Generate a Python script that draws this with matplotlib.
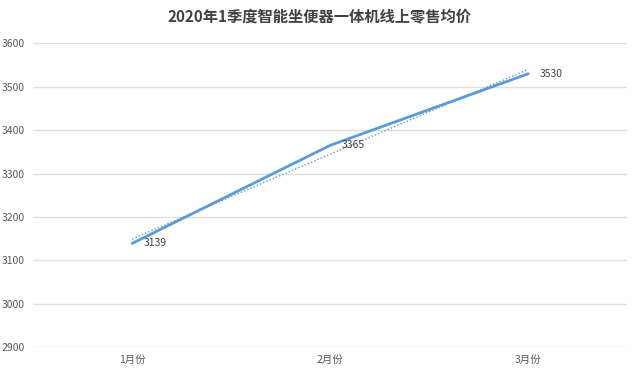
import numpy as np
import matplotlib
matplotlib.use('Agg')
import matplotlib.pyplot as plt

plt.rcParams['font.family'] = ['Noto Sans CJK SC', 'DejaVu Sans']

months = ['1月份', '2月份', '3月份']
prices = [3139, 3365, 3530]
y_ticks = [2900, 3000, 3100, 3200, 3300, 3400, 3500, 3600]

blue = '#5B9BD5'

fig = plt.figure(figsize=(6.4, 3.76), dpi=100)
ax = fig.add_axes([0.052, 0.077, 0.928, 0.8076])

x = np.arange(len(months))
ax.plot(x, prices, color=blue, linewidth=2.0, solid_capstyle='round', zorder=3)

# linear trend line
k, b = np.polyfit(x, prices, 1)
ax.plot(x, k * x + b, color=blue, linewidth=1.0, linestyle=(0, (1, 1.5)), zorder=2)

for xi, v in zip(x, prices):
    ax.annotate(str(v), (xi, v), xytext=(8, 0), textcoords='offset points',
                ha='left', va='center', fontsize=7.5, color='#404040')

ax.set_xlim(-0.5, 2.5)
ax.set_ylim(2900, 3600)
ax.set_xticks(x)
ax.set_xticklabels(months)
ax.set_yticks(y_ticks)
ax.tick_params(length=0, labelsize=7.5, colors='#595959', pad=6)
ax.tick_params(axis='x', pad=6)
ax.grid(axis='y', color='#E0E0E0', linewidth=1)
ax.set_axisbelow(True)
for s in ax.spines.values():
    s.set_visible(False)

fig.suptitle('2020年1季度智能坐便器一体机线上零售均价', fontsize=11,
             fontweight='bold', color='#404040', y=0.975)

fig.savefig('out.png', dpi=100)
